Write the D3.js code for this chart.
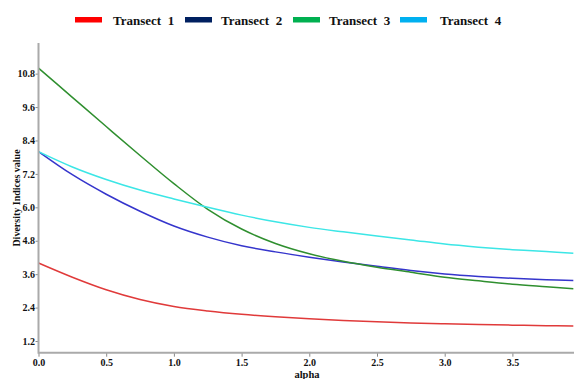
<!DOCTYPE html>
<html>
<head>
<meta charset="utf-8">
<script src="https://cdn.jsdelivr.net/npm/d3@7"></script>
<style>
  body { margin: 0; background: #fff; }
  text { font-family: "Liberation Serif", "Times New Roman", serif; font-weight: bold; fill: #111; }
</style>
</head>
<body>
<div id="chart"></div>
<script>
var alpha = [0, 0.25, 0.5, 0.75, 1.0, 1.25, 1.5, 1.75, 2.0, 2.25, 2.5, 2.75, 3.0, 3.25, 3.5, 3.75, 3.95];
var transect1 = [4.0, 3.49, 3.04, 2.69, 2.44, 2.28, 2.16, 2.07, 2.0, 1.94, 1.89, 1.85, 1.82, 1.79, 1.77, 1.75, 1.74];
var transect2 = [8.0, 7.17, 6.47, 5.86, 5.33, 4.93, 4.62, 4.40, 4.21, 4.04, 3.88, 3.73, 3.61, 3.52, 3.45, 3.40, 3.37];
var transect3 = [11.0, 9.95, 8.90, 7.86, 6.85, 5.93, 5.22, 4.70, 4.33, 4.06, 3.85, 3.67, 3.49, 3.36, 3.24, 3.15, 3.08];
var transect4 = [8.0, 7.45, 7.0, 6.62, 6.30, 6.0, 5.72, 5.48, 5.28, 5.12, 4.97, 4.83, 4.68, 4.57, 4.48, 4.41, 4.35];
var seriesNames = ["Transect  1", "Transect  2", "Transect  3", "Transect  4"];
var xTicks = [0, 0.5, 1.0, 1.5, 2.0, 2.5, 3.0, 3.5];
var yTicks = [1.2, 2.4, 3.6, 4.8, 6.0, 7.2, 8.4, 9.6, 10.8];

var lineColors = ["#e03a3a", "#3535cc", "#2f8f2f", "#3ce6e6"];
var legendColors = ["#ff0000", "#002060", "#00b050", "#00b0f0"];

var W = 574, H = 379;
var svg = d3.select("#chart").append("svg")
  .attr("width", W)
  .attr("height", H);

var x = d3.scaleLinear().domain([0, 3.955]).range([38.5, 574]);
var y = d3.scaleLinear().domain([0.78, 11.9]).range([352.7, 43]);

var series = [transect1, transect2, transect3, transect4];

var line = d3.line()
  .x(function(d, i) { return x(alpha[i]); })
  .y(function(d) { return y(d); })
  .curve(d3.curveCatmullRom.alpha(0.5));

svg.selectAll(".serie")
  .data(series)
  .enter().append("path")
    .attr("class", "serie")
    .attr("fill", "none")
    .attr("stroke", function(d, i) { return lineColors[i]; })
    .attr("stroke-width", 1.5)
    .attr("d", line);

var xAxis = d3.axisBottom(x).tickValues(xTicks).tickSize(4).tickPadding(2)
  .tickFormat(d3.format(".1f"));
var yAxis = d3.axisLeft(y).tickValues(yTicks).tickSize(3).tickPadding(0.5)
  .tickFormat(d3.format(".1f"));

var gx = svg.append("g")
  .attr("transform", "translate(0," + y.range()[0] + ")")
  .call(xAxis);
gx.select(".domain").remove();
gx.append("line")
  .attr("x1", 38.5).attr("x2", W)
  .attr("stroke", "#aaa").attr("stroke-width", 2);

var gy = svg.append("g")
  .attr("transform", "translate(" + x.range()[0] + ",0)")
  .call(yAxis);
gy.select(".domain").remove();
gy.append("line")
  .attr("y1", 43).attr("y2", 353.7)
  .attr("stroke", "#aaa").attr("stroke-width", 2);

svg.selectAll(".tick line").attr("stroke", "#888");
svg.selectAll(".tick text")
  .style("font-family", "'Liberation Serif', 'Times New Roman', serif")
  .style("font-weight", "bold")
  .style("font-size", "10px")
  .attr("fill", "#111");

svg.append("text")
  .attr("x", 307)
  .attr("y", 378)
  .attr("text-anchor", "middle")
  .attr("font-size", "10.5px")
  .text("alpha");

svg.append("text")
  .attr("transform", "translate(19.5,198) rotate(-90)")
  .attr("text-anchor", "middle")
  .attr("font-size", "10px")
  .text("Diversity Indices value");

var legendX = [75, 185, 293, 400];
var legend = svg.selectAll(".legend")
  .data(seriesNames)
  .enter().append("g")
    .attr("class", "legend")
    .attr("transform", function(d, i) { return "translate(" + legendX[i] + ",0)"; });

legend.append("rect")
  .attr("y", 17)
  .attr("width", 27)
  .attr("height", 5.5)
  .attr("fill", function(d, i) { return legendColors[i]; });

legend.append("text")
  .attr("x", function(d, i) { return i == 0 ? 38 : (i == 3 ? 40 : 36); })
  .attr("y", 24.5)
  .attr("font-size", "13px")
  .style("white-space", "pre")
  .text(function(d) { return d; });
</script>
</body>
</html>
